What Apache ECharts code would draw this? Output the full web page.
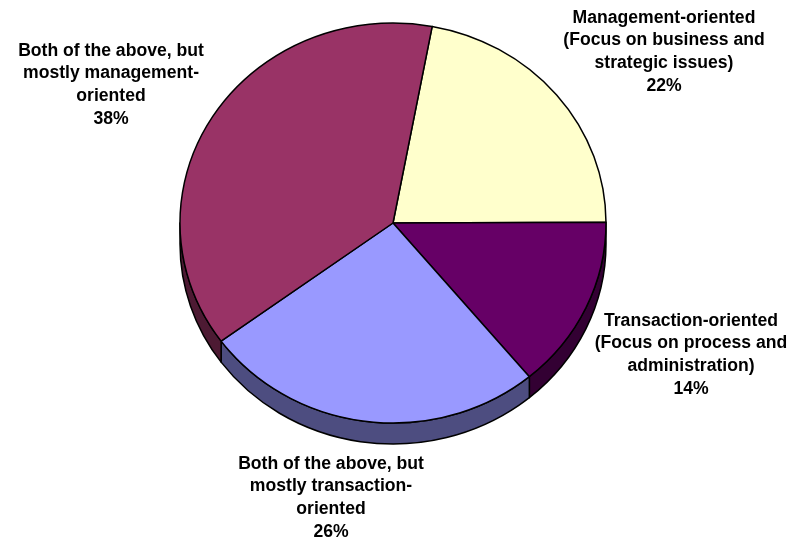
<!DOCTYPE html>
<html>
<head>
<meta charset="utf-8">
<style>html,body{margin:0;padding:0;background:#fff}#chart{width:796px;height:539px}</style>
<script src="https://cdn.jsdelivr.net/npm/echarts@6/dist/echarts.min.js"></script>
</head>
<body>
<div id="chart"></div>
<script>
// Category names (line-broken as printed) and their percentage shares
const categories = [
  'Management-oriented\n(Focus on business and\nstrategic issues)',
  'Transaction-oriented\n(Focus on process and\nadministration)',
  'Both of the above, but\nmostly transaction-\noriented',
  'Both of the above, but\nmostly management-\noriented'
];
const shares = [22, 14, 26, 38];

// Presentation: top-face and rim colours per slice, label anchors
const topColors = ['#FFFFCC', '#660066', '#9999FF', '#993366'];
const rimColors = ['#80806A', '#330033', '#4D4D80', '#4D1A33'];
const labelAnchors = [[664, 52], [691, 355], [331, 498], [111, 85]];

const CX = 393, CY = 223, RX = 213, RY = 200, DEPTH = 21;
const START_DEG = 10.6;   // first slice begins just past twelve o'clock
const total = shares.reduce((a, b) => a + b, 0);

// Point on the tilted pie's rim; deg runs clockwise from twelve o'clock
function rim(deg, dy) {
  const t = deg * Math.PI / 180;
  return [CX + RX * Math.sin(t), CY - RY * Math.cos(t) + (dy || 0)];
}
function topPath(a, b) {
  const p = rim(a), q = rim(b), large = b - a > 180 ? 1 : 0;
  return `M${CX} ${CY}L${p[0]} ${p[1]}A${RX} ${RY} 0 ${large} 1 ${q[0]} ${q[1]}Z`;
}
// The visible side wall covers only the front half of the ellipse (90..270 deg)
function rimPath(a, b) {
  const s = Math.max(a, 90), e = Math.min(b, 270);
  if (e <= s) return null;
  const p = rim(s), q = rim(e), q2 = rim(e, DEPTH), p2 = rim(s, DEPTH);
  return `M${p[0]} ${p[1]}A${RX} ${RY} 0 0 1 ${q[0]} ${q[1]}L${q2[0]} ${q2[1]}` +
         `A${RX} ${RY} 0 0 0 ${p2[0]} ${p2[1]}Z`;
}

function renderSlice(params, api) {
  const i = params.dataIndex;
  let before = 0;
  for (let k = 0; k < i; k++) before += shares[k];
  const a = START_DEG + before / total * 360;
  const b = a + api.value(0) / total * 360;
  const children = [];
  const wall = rimPath(a, b);
  if (wall) {
    children.push({
      type: 'path', shape: { pathData: wall },
      style: { fill: rimColors[i], stroke: '#000', lineWidth: 1.5, lineJoin: 'round' }
    });
  }
  children.push({
    type: 'path', shape: { pathData: topPath(a, b) },
    style: { fill: topColors[i], stroke: '#000', lineWidth: 1.5, lineJoin: 'round' }
  });
  children.push({
    type: 'text', x: labelAnchors[i][0], y: labelAnchors[i][1], z2: 10,
    style: {
      text: categories[i] + '\n' + api.value(0) + '%',
      fill: '#000', align: 'center', verticalAlign: 'middle',
      font: 'bold 17.6px "Liberation Sans", Arial, sans-serif', lineHeight: 22.9
    }
  });
  return { type: 'group', children };
}

const chart = echarts.init(document.getElementById('chart'), null, { renderer: 'canvas' });
chart.setOption({
  animation: false,
  backgroundColor: '#fff',
  series: [{
    type: 'custom',
    coordinateSystem: 'none',
    renderItem: renderSlice,
    data: shares.map((v, i) => ({ name: categories[i], value: [v] }))
  }]
});
</script>
</body>
</html>
